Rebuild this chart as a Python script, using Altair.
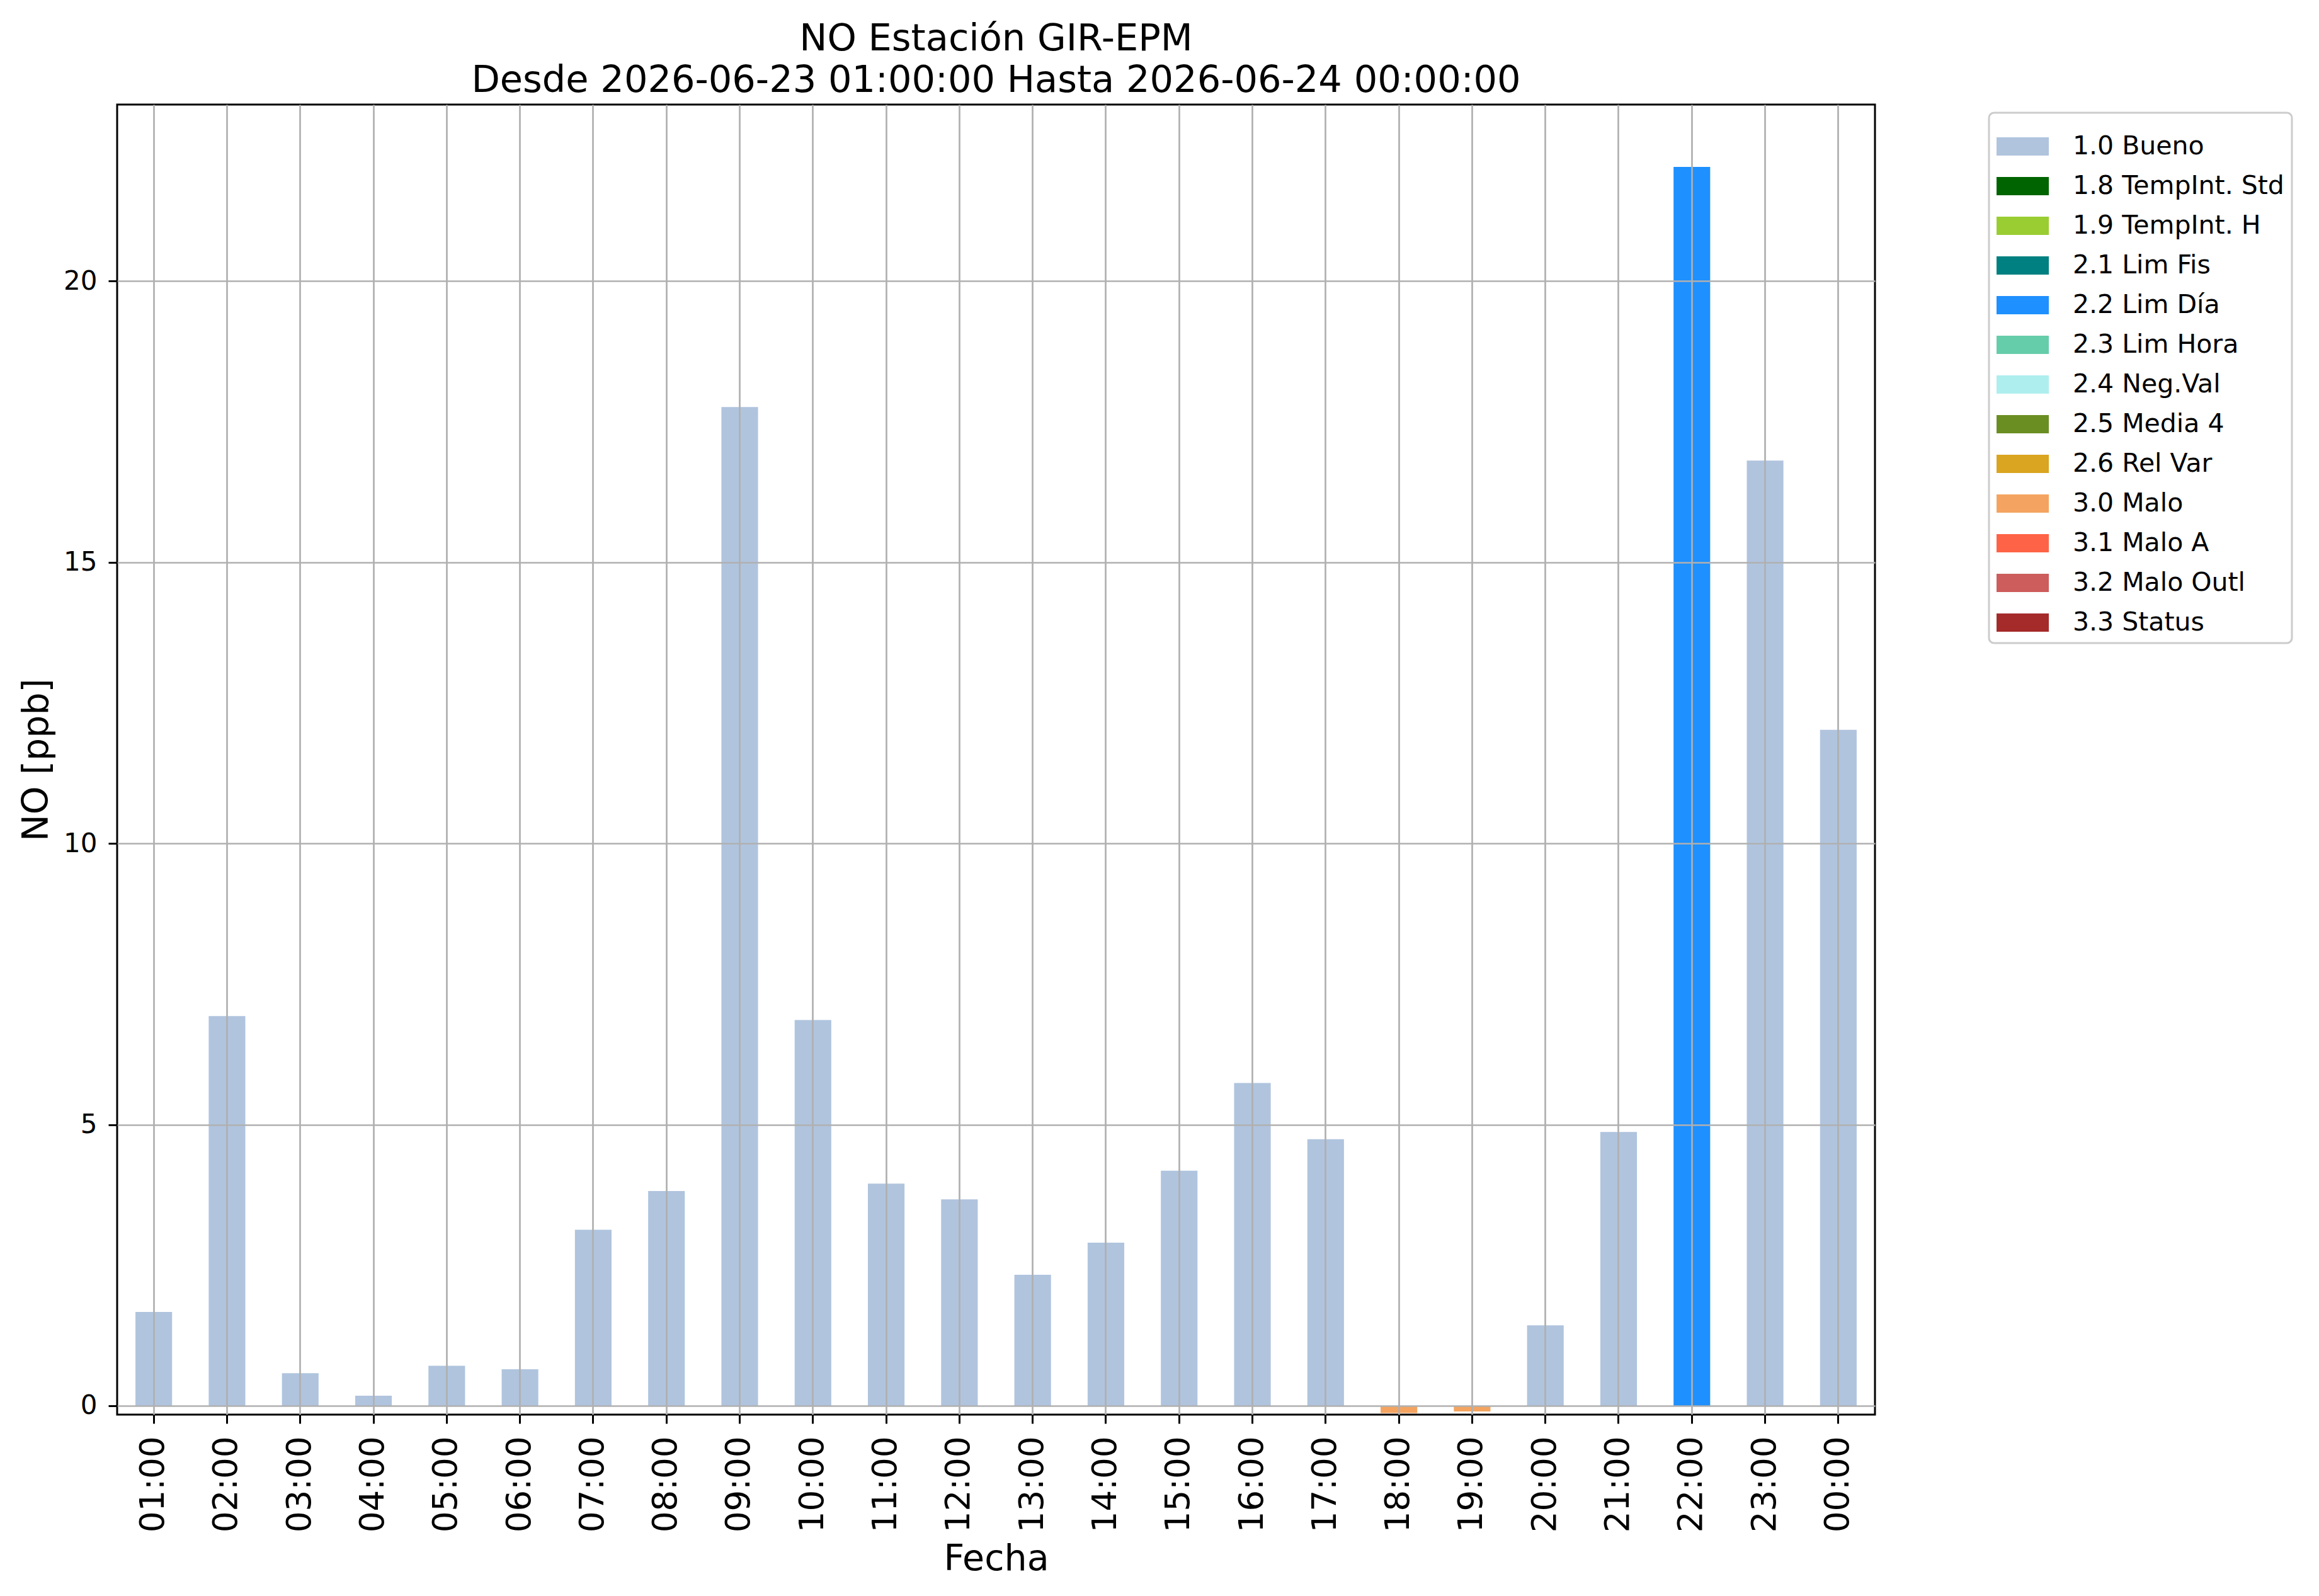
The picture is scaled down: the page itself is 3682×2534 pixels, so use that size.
import altair as alt
import pandas as pd

hours = ["01:00", "02:00", "03:00", "04:00", "05:00", "06:00", "07:00", "08:00",
         "09:00", "10:00", "11:00", "12:00", "13:00", "14:00", "15:00", "16:00",
         "17:00", "18:00", "19:00", "20:00", "21:00", "22:00", "23:00", "00:00"]
values = [1.67, 6.93, 0.58, 0.18, 0.71, 0.65, 3.13, 3.82,
          17.76, 6.86, 3.95, 3.67, 2.33, 2.90, 4.18, 5.74,
          4.74, -0.13, -0.10, 1.43, 4.87, 22.03, 16.81, 12.02]
flags = ["1.0 Bueno"] * 17 + ["3.0 Malo", "3.0 Malo", "1.0 Bueno", "1.0 Bueno",
                              "2.2 Lim Día", "1.0 Bueno", "1.0 Bueno"]

categories = ["1.0 Bueno", "1.8 TempInt. Std", "1.9 TempInt. H", "2.1 Lim Fis",
              "2.2 Lim Día", "2.3 Lim Hora", "2.4 Neg.Val", "2.5 Media 4",
              "2.6 Rel Var", "3.0 Malo", "3.1 Malo A", "3.2 Malo Outl", "3.3 Status"]
colors = ["#b0c4de", "#006400", "#9acd32", "#008080", "#1e90ff", "#66cdaa",
          "#afeeee", "#6b8e23", "#daa520", "#f4a460", "#ff6347", "#cd5c5c", "#a52a2a"]

y_ticks = [0, 5, 10, 15, 20]
title_lines = ["NO Estación GIR-EPM", "Desde 2026-06-23 01:00:00 Hasta 2026-06-24 00:00:00"]

df = pd.DataFrame({"Fecha": hours, "value": values, "flag": flags})

FONT = "DejaVu Sans"
W, H = 2791, 2080

chart = alt.Chart(df).mark_bar(opacity=1).encode(
    x=alt.X("Fecha:N", sort=hours,
            scale=alt.Scale(paddingInner=0.5, paddingOuter=0.25),
            axis=alt.Axis(title="Fecha", labelAngle=270, labelFontSize=53,
                          labelPadding=20, tickSize=14, tickWidth=3, tickColor="black",
                          labelColor="black", labelFont=FONT, bandPosition=0.5,
                          grid=True, gridColor="#b0b0b0", gridWidth=2.7,
                          domain=False, zindex=1,
                          titleFont=FONT, titleFontSize=57, titleFontWeight="normal",
                          titleColor="black", titleX=W / 2, titleY=246,
                          titleBaseline="alphabetic", titleAlign="center")),
    y=alt.Y("value:Q",
            scale=alt.Scale(domain=[-0.157, 23.14], nice=False, zero=False),
            axis=alt.Axis(title="NO [ppb]", values=y_ticks, labelFontSize=42,
                          labelPadding=18, tickSize=14, tickWidth=3, tickColor="black",
                          labelColor="black", labelFont=FONT,
                          grid=True, gridColor="#b0b0b0", gridWidth=2.7,
                          domain=False, zindex=1,
                          titleFont=FONT, titleFontSize=57, titleFontWeight="normal",
                          titleColor="black", titleAngle=270, titleX=-111, titleY=H / 2,
                          titleBaseline="alphabetic", titleAlign="center")),
    y2=alt.datum(0),
    color=alt.Color("flag:N",
                    scale=alt.Scale(domain=categories, range=colors),
                    legend=alt.Legend(title=None, orient="none", legendX=2972, legendY=13,
                                      labelFont=FONT, labelFontSize=41, labelColor="black",
                                      symbolType="M-1,-0.35H1V0.35H-1Z", symbolSize=6889,
                                      symbolStrokeWidth=0, symbolOpacity=1,
                                      labelOffset=38, rowPadding=1, padding=12,
                                      strokeColor="#cccccc", fillColor="white",
                                      cornerRadius=8, labelLimit=1000)),
).properties(
    width=W,
    height=H,
    title=alt.TitleParams(text=title_lines, font=FONT, fontSize=59, fontWeight="normal",
                          color="black", lineHeight=66, anchor="middle", offset=8),
    autosize=alt.AutoSizeParams(type="none"),
    padding={"left": 178, "top": 158, "right": 690, "bottom": 270},
).configure_view(
    stroke="black", strokeWidth=3
).configure_legend(
    strokeWidth=3
)

chart.save("out.html", embed_options={"renderer": "svg", "actions": False})
